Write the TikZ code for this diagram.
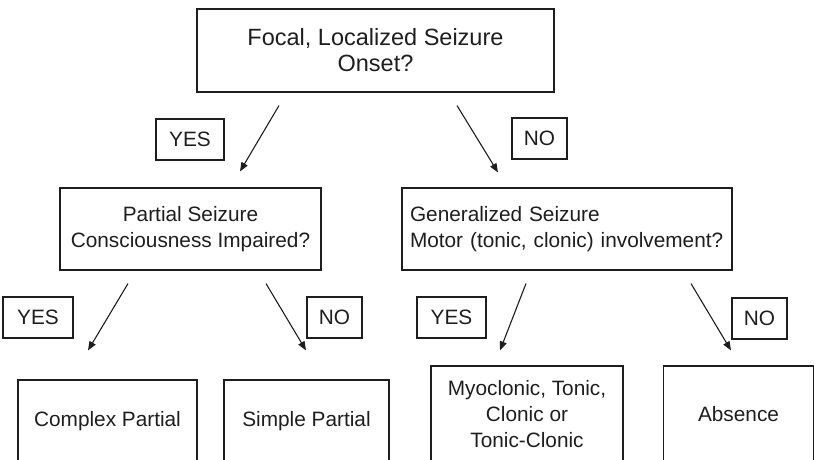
\documentclass[tikz,border=0pt]{standalone}
\usepackage{fontspec}
\setmainfont{Liberation Sans}
\usetikzlibrary{arrows.meta,positioning}
\definecolor{inkgray}{RGB}{30,30,30}

\begin{document}
\begin{tikzpicture}[x=1pt,y=-1pt,
    box/.style={draw=inkgray, line width=1.1pt, inner sep=0pt, align=center,
      text=inkgray, font=\fontsize{20.8}{26}\selectfont},
    tag/.style={box, minimum height=41pt},
    arr/.style={draw=inkgray, line width=1.1pt, -{Triangle[length=9pt,width=7pt]}}]
    \useasboundingbox (0,0) rectangle (814,459);
    \clip (0,0) rectangle (814,459);
    % Questions
    \node[box, minimum width=357pt, minimum height=83pt,
      font=\fontsize{23.5}{26}\selectfont] (focal) at (375.5,50.5)
      {Focal, Localized Seizure\\Onset?};
    \node[box, minimum width=261pt, minimum height=82pt] (partial) at (190.5,229)
      {Partial Seizure\\Consciousness Impaired?};
    \node[box, align=left, text width=314pt, inner xsep=8pt, minimum height=82pt]
      (general) at (567,229)
      {Generalized Seizure\\Motor (tonic, clonic) involvement?};
    % Answers
    \node[tag, minimum width=68pt] (yesfocal) at (190,139.5) {YES};
    \node[tag, minimum width=55pt] (nofocal) at (539.5,138.5) {NO};
    \node[tag, minimum width=70pt] (yespartial) at (38,317.5) {YES};
    \node[tag, minimum width=55pt] (nopartial) at (334.5,317.5) {NO};
    \node[tag, minimum width=69pt] (yesgeneral) at (451.5,317.5) {YES};
    \node[tag, minimum width=55pt] (nogeneral) at (759.5,318.5) {NO};
    % Seizure types
    \node[box, minimum width=179pt, minimum height=82pt] (complex) at (107.5,421)
      {Complex Partial};
    \node[box, minimum width=165pt, minimum height=82pt] (simple) at (306.5,421)
      {Simple Partial};
    \node[box, minimum width=192pt, minimum height=96pt] (motor) at (527,414)
      {Myoclonic, Tonic,\\Clonic or\\Tonic-Clonic};
    \node[box, minimum width=150pt, minimum height=96pt] (absence) at (738.5,414)
      {Absence};
    % Arrows
    \draw[arr] ([shift={(-96.5,13)}]focal.south) -- ([shift={(49.5,-16)}]partial.north);
    \draw[arr] ([shift={(81.5,13)}]focal.south) -- ([shift={(-69,-15)}]general.north);
    \draw[arr] ([shift={(-62.5,13)}]partial.south) -- ([shift={(-19.5,-29)}]complex.north);
    \draw[arr] ([shift={(75.5,13)}]partial.south) -- ([shift={(-0.5,-29)}]simple.north);
    \draw[arr] ([shift={(-41,13)}]general.south) -- ([shift={(-27,-15)}]motor.north);
    \draw[arr] ([shift={(124,13)}]general.south) -- ([shift={(-7.5,-15)}]absence.north);
\end{tikzpicture}
\end{document}
